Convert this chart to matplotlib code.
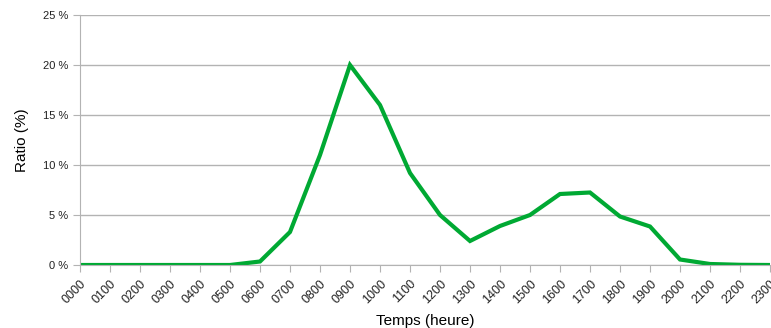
import matplotlib.pyplot as plt
from matplotlib.ticker import FuncFormatter

plt.rcParams['font.family'] = ['Liberation Sans', 'DejaVu Sans']

heures = ["0000", "0100", "0200", "0300", "0400", "0500", "0600", "0700",
          "0800", "0900", "1000", "1100", "1200", "1300", "1400", "1500",
          "1600", "1700", "1800", "1900", "2000", "2100", "2200", "2300"]

ratio = [0, 0, 0, 0, 0, 0, 0.35, 3.3,
         11.0, 20.0, 16.0, 9.2, 5.0, 2.4, 3.9, 5.0,
         7.1, 7.25, 4.85, 3.85, 0.55, 0.1, 0.02, 0]

fig = plt.figure(figsize=(7.71, 3.28), dpi=100)
ax = fig.add_axes([80 / 771, 63 / 328, 690 / 771, 250 / 328])

x = range(len(heures))
ax.plot(x, ratio, color='#00a933', linewidth=3, solid_joinstyle='miter')

ax.set_xlim(0, len(heures) - 1)
ax.set_ylim(0, 25)
ax.set_yticks([0, 5, 10, 15, 20, 25])
ax.yaxis.set_major_formatter(FuncFormatter(lambda v, p: '%d %%' % v))
ax.set_xticks(list(x))
ax.set_xticklabels(heures, rotation=45, ha='right', rotation_mode='anchor')

ax.grid(axis='y', color='#b3b3b3', linewidth=1)
ax.set_axisbelow(True)
for s in ['top', 'right']:
    ax.spines[s].set_visible(False)
for s in ['left', 'bottom']:
    ax.spines[s].set_color('#b3b3b3')
ax.tick_params(colors='#b3b3b3', labelcolor='#222222', labelsize=8, length=5)
ax.tick_params(axis='x', labelsize=9, pad=4)

ax.set_xlabel('Temps (heure)', fontsize=11, color='#000000', labelpad=6)
ax.set_ylabel('Ratio (%)', fontsize=11, color='#000000', labelpad=10)

fig.savefig('out.png', dpi=100)
